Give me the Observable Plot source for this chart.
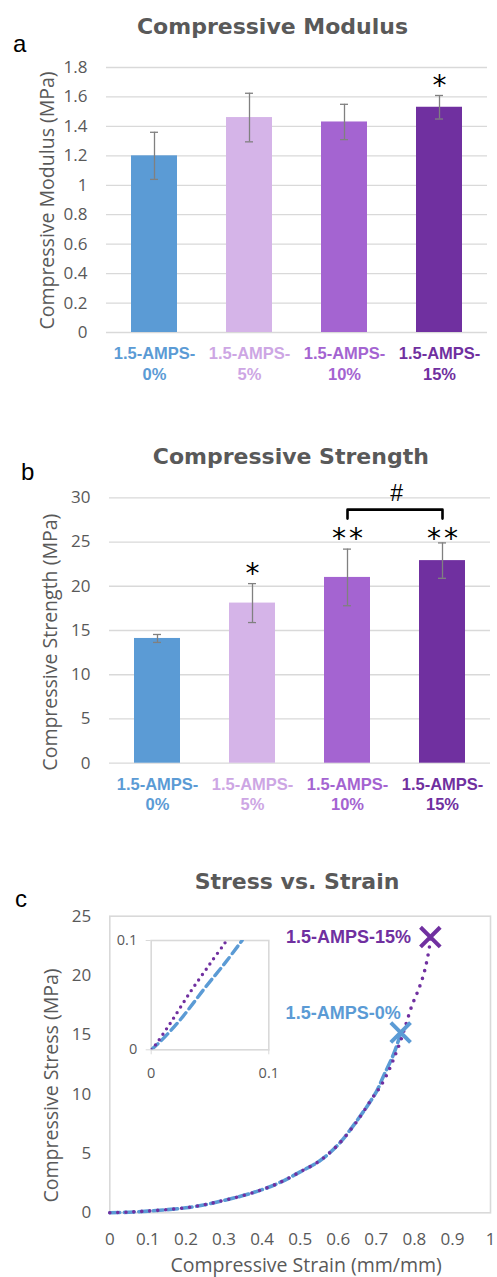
<!DOCTYPE html>
<html><head><meta charset="utf-8">
<script src="https://cdn.jsdelivr.net/npm/d3@7"></script>
<script src="https://cdn.jsdelivr.net/npm/@observablehq/plot@0.6"></script>
<style>
html,body{margin:0;padding:0;background:#fff;}
#page{position:relative;width:497px;height:1277px;overflow:hidden;font-family:"Open Sans",sans-serif;}
#page svg{position:absolute;overflow:visible;}
.title{position:absolute;font-family:"DejaVu Sans";font-weight:bold;font-size:22px;line-height:22px;color:#595959;text-align:center;width:400px;white-space:nowrap;}
.letter{position:absolute;font-family:"Liberation Sans";font-size:24px;line-height:24px;color:#000;}
</style></head><body><div id="page"></div>
<script>
// ---------- data ----------
const categories = ["1.5-AMPS-0%", "1.5-AMPS-5%", "1.5-AMPS-10%", "1.5-AMPS-15%"];
const categoryLabels = ["1.5-AMPS-\n0%", "1.5-AMPS-\n5%", "1.5-AMPS-\n10%", "1.5-AMPS-\n15%"];
const barColors = ["#5B9BD5", "#D5B4E8", "#A464D1", "#7030A0"];
const labelColors = ["#5B9BD5", "#CDA6E4", "#A464D1", "#7030A0"];

const titleA = "Compressive Modulus";
const yLabelA = "Compressive Modulus (MPa)";
const yTicksA = [0, 0.2, 0.4, 0.6, 0.8, 1, 1.2, 1.4, 1.6, 1.8];
const modulusMean = [1.20, 1.46, 1.43, 1.53];
const modulusErr = [0.16, 0.165, 0.12, 0.08];
const modulusSig = ["", "", "", "*"];

const titleB = "Compressive Strength";
const yLabelB = "Compressive Strength (MPa)";
const yTicksB = [0, 5, 10, 15, 20, 25, 30];
const strengthMean = [14.1, 18.1, 21.0, 22.9];
const strengthErr = [0.45, 2.2, 3.2, 2.0];
const strengthSig = ["", "*", "**", "**"];
const strengthSigLevel = [null, 20.3, 24.3, 24.3];
const bracketCats = ["1.5-AMPS-10%", "1.5-AMPS-15%"];
const bracketLevel = 28.66;
const bracketLeg = 27.65;
const bracketLabel = "#";

const titleC = "Stress vs. Strain";
const yLabelC = "Compressive Stress (MPa)";
const xLabelC = "Compressive Strain (mm/mm)";
const yTicksC = [0, 5, 10, 15, 20, 25];
const xTicksC = [0, 0.1, 0.2, 0.3, 0.4, 0.5, 0.6, 0.7, 0.8, 0.9, 1];
const seriesNames = ["1.5-AMPS-0%", "1.5-AMPS-15%"];
const seriesColors = ["#5B9BD5", "#7030A0"];
const strain0 = [0, 0.05, 0.1, 0.15, 0.2, 0.25, 0.3, 0.35, 0.4, 0.45, 0.5, 0.55, 0.6, 0.65, 0.7, 0.72, 0.742, 0.759, 0.764];
const stress0 = [0, 0.05, 0.14, 0.26, 0.42, 0.68, 1.04, 1.45, 1.95, 2.6, 3.45, 4.35, 5.75, 7.8, 10.2, 11.6, 13.1, 14.6, 15.2];
const strain15 = [0, 0.05, 0.1, 0.15, 0.2, 0.25, 0.3, 0.35, 0.4, 0.45, 0.5, 0.55, 0.6, 0.65, 0.69, 0.711, 0.733, 0.751, 0.764, 0.777, 0.794, 0.812, 0.827, 0.840, 0.842];
const stress15 = [0, 0.06, 0.15, 0.27, 0.43, 0.69, 1.05, 1.45, 1.95, 2.6, 3.45, 4.35, 5.75, 7.75, 9.7, 10.65, 12.0, 13.4, 14.5, 15.8, 17.5, 18.9, 20.4, 22.5, 23.24];
// inset (zoom 0–0.1)
const insetTicks = [0, 0.1];
const insetStrain0 = [0, 0.0079, 0.0249, 0.0448, 0.0632, 0.0773];
const insetStress0 = [0, 0.0077, 0.0277, 0.0554, 0.08, 0.1];
const insetStrain15 = [0, 0.0037, 0.0164, 0.0329, 0.0499, 0.0632];
const insetStress15 = [0, 0.0046, 0.0246, 0.0523, 0.0785, 0.0985];

// ---------- helpers ----------
const page = document.getElementById("page");
function place(el, left, top) { el.style.left = left + "px"; el.style.top = top + "px"; page.appendChild(el); return el; }
function div(cls, text, left, top) { const d = document.createElement("div"); d.className = cls; d.textContent = text; return place(d, left, top); }
const fmt = d3.format("~g");
const GRID = "#d9d9d9", TXT = "#595959", ERR = "#808080";

function barRows(means, errs, sigs, levels) {
  return categories.map((c, i) => ({cat: c, label: categoryLabels[i], mean: means[i], err: errs[i],
    barFill: barColors[i], labFill: labelColors[i], sig: sigs[i], level: levels ? levels[i] : means[i] + errs[i]}));
}

function barPanel({rows, ticks, yMax, yLabel, height, mTop, mBottom, mLeft, mRight, labelDy, yLabelDy = 0, extra = []}) {
  return Plot.plot({
    width: 497, height, marginLeft: mLeft, marginRight: mRight, marginTop: mTop, marginBottom: mBottom,
    x: {domain: categories, paddingInner: 0.52, paddingOuter: 0.26, axis: null},
    y: {domain: [0, yMax], axis: null},
    color: {type: "identity"},
    style: {fontFamily: "Open Sans", background: "transparent", overflow: "visible"},
    marks: [
      Plot.gridY(ticks, {stroke: GRID, strokeOpacity: 1, strokeWidth: 1.3}),
      Plot.barY(rows, {x: "cat", y: "mean", fill: d => d.barFill}),
      Plot.ruleX(rows, {x: "cat", y1: d => d.mean - d.err, y2: d => d.mean + d.err, stroke: ERR, strokeWidth: 1.3}),
      Plot.tickY(rows, {x: "cat", y: d => d.mean + d.err, stroke: ERR, strokeWidth: 1.3, insetLeft: 19, insetRight: 19}),
      Plot.tickY(rows, {x: "cat", y: d => d.mean - d.err, stroke: ERR, strokeWidth: 1.3, insetLeft: 19, insetRight: 19}),
      Plot.axisY(ticks, {tickSize: 0, tickPadding: 19, fontSize: 17, fill: TXT, label: null, tickFormat: fmt, fontFamily: "Open Sans"}),
      Plot.text(rows, {x: "cat", text: "label", fill: d => d.labFill, frameAnchor: "bottom", lineAnchor: "middle", textAnchor: "middle",
        dy: labelDy, lineHeight: 1.25, fontFamily: "Liberation Sans", fontWeight: "bold", fontSize: 16.5}),
      Plot.text([yLabel], {text: d => d, frameAnchor: "left", textAnchor: "middle", lineAnchor: "middle", rotate: -90, dx: -59, dy: yLabelDy,
        fontSize: 19.5, fill: TXT, fontFamily: "Open Sans"}),
      Plot.text(rows.filter(d => d.sig), {x: "cat", y: "level", text: d => d.sig.split("").join("\u200A"), dy: -9.3,
        fontFamily: "DejaVu Sans", fontSize: 28, fill: "#000"}),
      ...extra
    ]
  });
}

// ---------- panel a ----------
const rowsA = barRows(modulusMean, modulusErr, modulusSig, null);
const svgA = barPanel({rows: rowsA, ticks: yTicksA, yMax: 1.8, yLabel: yLabelA, height: 400,
  mTop: 67, mBottom: 68, mLeft: 106, mRight: 10, labelDy: 30.5, yLabelDy: 0.5});
place(svgA, 0, 0);

// ---------- panel b ----------
const rowsB = barRows(strengthMean, strengthErr, strengthSig, strengthSigLevel);
const bracketPts = [
  {cat: bracketCats[0], y: bracketLeg}, {cat: bracketCats[0], y: bracketLevel},
  {cat: bracketCats[1], y: bracketLevel}, {cat: bracketCats[1], y: bracketLeg}
];
const stepB = (497 - 109 - 7) / categories.length;
const svgB = barPanel({rows: rowsB, ticks: yTicksB, yMax: 30, yLabel: yLabelB, height: 420,
  mTop: 97.3, mBottom: 57.3, mLeft: 109, mRight: 7, labelDy: 30.1, yLabelDy: 11.7,
  extra: [
    Plot.line(bracketPts, {x: "cat", y: "y", stroke: "#000", strokeWidth: 2.6}),
    Plot.text([{cat: bracketCats[0], y: bracketLevel, t: bracketLabel}], {x: "cat", y: "y", text: "t", dx: stepB / 2 + 1.5, dy: -16,
      fontFamily: "Liberation Sans", fontSize: 23, fill: "#000"})
  ]});
place(svgB, 0, 400);

// ---------- panel c ----------
const c0 = strain0.map((s, i) => ({s, v: stress0[i]}));
const c15 = strain15.map((s, i) => ({s, v: stress15[i]}));
const end0 = c0[c0.length - 1], end15 = c15[c15.length - 1];
const svgC = Plot.plot({
  width: 497, height: 457, marginLeft: 109.3, marginRight: 7, marginTop: 95.7, marginBottom: 64.7,
  x: {domain: [0, 1], axis: null}, y: {domain: [0, 25], axis: null},
  style: {fontFamily: "Open Sans", background: "transparent", overflow: "visible"},
  marks: [
    Plot.frame({stroke: GRID, strokeWidth: 1.6}),
    Plot.axisY(yTicksC, {tickSize: 0, tickPadding: 18.6, fontSize: 17, fill: TXT, label: null, tickFormat: fmt, fontFamily: "Open Sans"}),
    Plot.axisX(xTicksC, {tickSize: 0, tickPadding: 20, fontSize: 17, fill: TXT, label: null, tickFormat: fmt, fontFamily: "Open Sans"}),
    Plot.line(c0, {x: "s", y: "v", stroke: seriesColors[0], strokeWidth: 3.6, strokeDasharray: "10,4.5", curve: "catmull-rom"}),
    Plot.line(c15, {x: "s", y: "v", stroke: seriesColors[1], strokeWidth: 3.6, strokeDasharray: "0,8", strokeLinecap: "round", curve: "catmull-rom"}),
    Plot.dot([end0], {x: "s", y: "v", symbol: "times", r: 9, stroke: seriesColors[0], strokeWidth: 4}),
    Plot.dot([end15], {x: "s", y: "v", symbol: "times", r: 9, stroke: seriesColors[1], strokeWidth: 4}),
    Plot.text([end0], {x: "s", y: "v", text: () => seriesNames[0], dy: -19.4, textAnchor: "end", fill: seriesColors[0],
      fontFamily: "Liberation Sans", fontWeight: "bold", fontSize: 18}),
    Plot.text([end15], {x: "s", y: "v", text: () => seriesNames[1], dx: -19.3, textAnchor: "end", fill: seriesColors[1],
      fontFamily: "Liberation Sans", fontWeight: "bold", fontSize: 18}),
    Plot.text([yLabelC], {text: d => d, frameAnchor: "left", textAnchor: "middle", lineAnchor: "middle", rotate: -90, dx: -58.5, dy: 21,
      fontSize: 19.5, fill: TXT, fontFamily: "Open Sans"}),
    Plot.text([xLabelC], {text: d => d, frameAnchor: "bottom", textAnchor: "middle", lineAnchor: "middle", dx: 6, dy: 52.7,
      fontSize: 19.5, fill: TXT, fontFamily: "Open Sans"})
  ]
});
place(svgC, 0, 820);

// inset
const i0 = insetStrain0.map((s, i) => ({s, v: insetStress0[i]}));
const i15 = insetStrain15.map((s, i) => ({s, v: insetStress15[i]}));
const svgI = Plot.plot({
  width: 190, height: 160, marginLeft: 60.7, marginRight: 11.7, marginTop: 15, marginBottom: 35.7,
  x: {domain: [0, 0.1], axis: null}, y: {domain: [0, 0.1], axis: null},
  style: {fontFamily: "Open Sans", background: "transparent", overflow: "visible"},
  marks: [
    Plot.frame({stroke: GRID, strokeWidth: 1.6}),
    Plot.axisY(insetTicks, {tickSize: 5, tickPadding: 9, stroke: GRID, fill: TXT, fontSize: 14.5, label: null, tickFormat: fmt, fontFamily: "Open Sans"}),
    Plot.axisX(insetTicks, {tickSize: 5, tickPadding: 12.5, stroke: GRID, fill: TXT, fontSize: 14.5, label: null, tickFormat: fmt, fontFamily: "Open Sans"}),
    Plot.line(i0, {x: "s", y: "v", stroke: seriesColors[0], strokeWidth: 3.4, strokeDasharray: "9,5", curve: "catmull-rom", clip: true}),
    Plot.line(i15, {x: "s", y: "v", stroke: seriesColors[1], strokeWidth: 3.4, strokeDasharray: "0,6.5", strokeLinecap: "round", curve: "catmull-rom", clip: true})
  ]
});
place(svgI, 90, 925);

// ---------- titles & panel letters ----------
div("title", titleA, 272.5 - 200, 16.4);
div("title", titleB, 290.8 - 200, 446.4);
div("title", titleC, 297 - 200, 870.7);
div("letter", "a", 13, 31.7);
div("letter", "b", 21, 459.7);
div("letter", "c", 15, 886.7);
</script></body></html>
